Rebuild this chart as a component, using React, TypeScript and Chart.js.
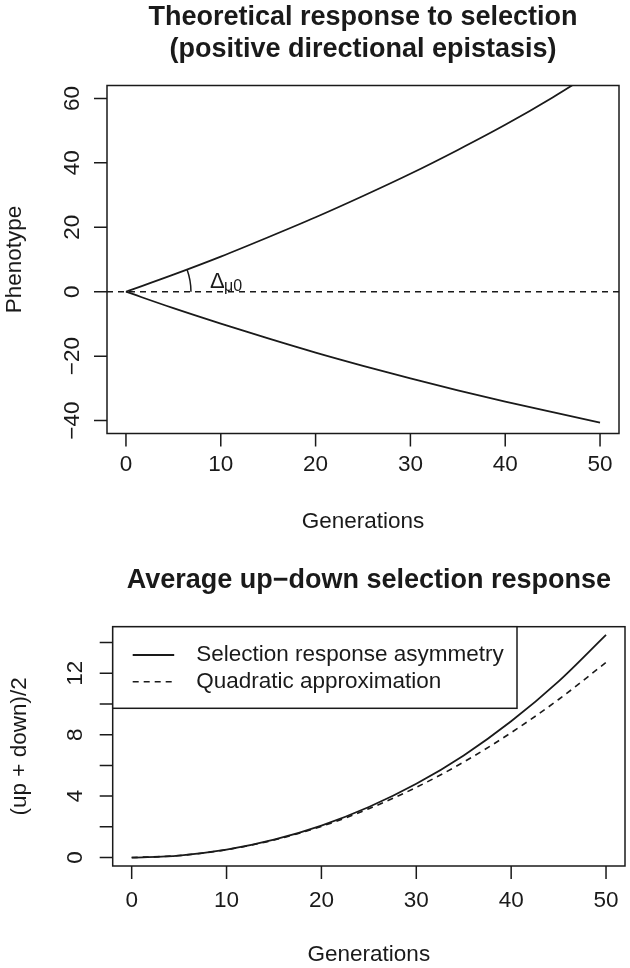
import React, { useEffect, useRef } from "react";
import { Chart, registerables } from "chart.js";

Chart.register(...registerables);

// ---------- data ----------
const generations = [0, 5, 10, 15, 20, 25, 30, 35, 40, 45, 50];
const upResponse = [0, 5.3, 10.9, 16.9, 23.1, 29.7, 36.6, 44.0, 51.8, 60.3, 69.5];
const downResponse = [0, -5.1, -9.9, -14.5, -18.9, -23.0, -26.9, -30.6, -34.1, -37.4, -40.6];
const asymmetry = [0, 0.13, 0.51, 1.16, 2.08, 3.29, 4.8, 6.65, 8.87, 11.47, 14.5];
const quadratic = [0, 0.13, 0.51, 1.14, 2.03, 3.18, 4.57, 6.22, 8.13, 10.29, 12.7];

const xTicks = [0, 10, 20, 30, 40, 50];
const topYTicks = [-40, -20, 0, 20, 40, 60];
const bottomYTicks = [0, 2, 4, 6, 8, 10, 12, 14];
const bottomYLabels = [0, 4, 8, 12];
const baselineValue = 0;

const topTitle = ["Theoretical response to selection", "(positive directional epistasis)"];
const bottomTitle = "Average up\u2212down selection response";
const xTitle = "Generations";
const topYTitle = "Phenotype";
const bottomYTitle = "(up + down)/2";
const legendLabels = ["Selection response asymmetry", "Quadratic approximation"];

// ---------- style ----------
const INK = "#1a1a1a";
const FONT = "'Liberation Sans', Arial, Helvetica, sans-serif";
const W = 630;
const H = 968;
const TICK = 13;
const TXT = 22.5;

const fmt = (v: number) => (v < 0 ? "\u2212" + Math.abs(v) : String(v));

type FrameCfg = {
  xTicks: number[];
  yTicks: number[];
  yLabels: number[];
  yLabelOffset: number;
  xLabelOffset: number;
  xTitleOffset: number;
  yTitleX: number;
  yTitle: string;
  title: string[];
  titleY: number[];
};

function drawFrame(chart: any, cfg: FrameCfg) {
  const { ctx, chartArea: a, scales } = chart;
  const x = scales.x;
  const y = scales.y;
  ctx.save();
  ctx.strokeStyle = INK;
  ctx.lineWidth = 1.5;
  ctx.strokeRect(a.left, a.top, a.right - a.left, a.bottom - a.top);
  ctx.beginPath();
  for (const v of cfg.xTicks) {
    const px = x.getPixelForValue(v);
    ctx.moveTo(px, a.bottom);
    ctx.lineTo(px, a.bottom + TICK);
  }
  for (const v of cfg.yTicks) {
    const py = y.getPixelForValue(v);
    ctx.moveTo(a.left, py);
    ctx.lineTo(a.left - TICK, py);
  }
  ctx.stroke();

  ctx.fillStyle = INK;
  ctx.textAlign = "center";
  ctx.textBaseline = "middle";
  ctx.font = `${TXT}px ${FONT}`;
  for (const v of cfg.xTicks) {
    ctx.fillText(fmt(v), x.getPixelForValue(v), a.bottom + cfg.xLabelOffset);
  }
  for (const v of cfg.yLabels) {
    ctx.save();
    ctx.translate(a.left - cfg.yLabelOffset, y.getPixelForValue(v));
    ctx.rotate(-Math.PI / 2);
    ctx.fillText(fmt(v), 0, 0);
    ctx.restore();
  }
  const cx = (a.left + a.right) / 2;
  ctx.fillText(xTitle, cx, a.bottom + cfg.xTitleOffset);
  ctx.save();
  ctx.translate(cfg.yTitleX, (a.top + a.bottom) / 2);
  ctx.rotate(-Math.PI / 2);
  ctx.fillText(cfg.yTitle, 0, 0);
  ctx.restore();

  ctx.font = `bold 27px ${FONT}`;
  cfg.title.forEach((t, i) => ctx.fillText(t, cx, cfg.titleY[i]));
  ctx.restore();
}

const layer: React.CSSProperties = { position: "absolute", left: 0, top: 0, width: W, height: H };

function TopChart() {
  const ref = useRef<HTMLCanvasElement>(null);
  useEffect(() => {
    const area = { left: 107, right: 619, top: 85.5, bottom: 433.5 };
    const chart = new Chart(ref.current!, {
      type: "line",
      data: {
        datasets: [
          {
            label: "up",
            data: generations.map((g, i) => ({ x: g, y: upResponse[i] })),
            borderColor: INK,
            borderWidth: 1.8,
            pointRadius: 0,
            cubicInterpolationMode: "monotone",
          },
          {
            label: "down",
            data: generations.map((g, i) => ({ x: g, y: downResponse[i] })),
            borderColor: INK,
            borderWidth: 1.8,
            pointRadius: 0,
            cubicInterpolationMode: "monotone",
          },
        ],
      },
      options: {
        animation: false,
        responsive: false,
        devicePixelRatio: 1,
        layout: {
          padding: { left: area.left, right: W - area.right, top: area.top, bottom: H - area.bottom },
        },
        scales: {
          x: { type: "linear", min: -2, max: 52, display: false },
          y: { type: "linear", min: -44, max: 64, display: false },
        },
        plugins: { legend: { display: false }, tooltip: { enabled: false } },
      },
      plugins: [
        {
          id: "rframeTop",
          beforeDatasetsDraw(c: any) {
            const { ctx, chartArea: a, scales } = c;
            const py = scales.y.getPixelForValue(baselineValue);
            ctx.save();
            ctx.strokeStyle = INK;
            ctx.lineWidth = 1.5;
            ctx.setLineDash([6, 5]);
            ctx.beginPath();
            ctx.moveTo(a.left, py);
            ctx.lineTo(a.right, py);
            ctx.stroke();
            ctx.restore();
          },
          afterDraw(c: any) {
            drawFrame(c, {
              xTicks,
              yTicks: topYTicks,
              yLabels: topYTicks,
              yLabelOffset: 34,
              xLabelOffset: 31,
              xTitleOffset: 88,
              yTitleX: 15,
              yTitle: topYTitle,
              title: topTitle,
              titleY: [18, 50],
            });
            const { ctx, scales } = c;
            const ox = scales.x.getPixelForValue(generations[0]);
            const oy = scales.y.getPixelForValue(upResponse[0]);
            const px = scales.x.getPixelForValue(generations[1]);
            const py = scales.y.getPixelForValue(upResponse[1]);
            const ang = Math.atan2(py - oy, px - ox);
            ctx.save();
            ctx.strokeStyle = INK;
            ctx.lineWidth = 1.5;
            ctx.beginPath();
            ctx.arc(ox, oy, 65, ang, 0);
            ctx.stroke();
            ctx.fillStyle = INK;
            ctx.textBaseline = "alphabetic";
            ctx.textAlign = "left";
            ctx.font = `22px ${FONT}`;
            ctx.fillText("\u0394", ox + 84, oy - 4);
            ctx.font = `16px ${FONT}`;
            ctx.fillText("\u03bc0", ox + 98, oy - 1);
            ctx.restore();
          },
        },
      ],
    } as any);
    return () => chart.destroy();
  }, []);
  return <canvas ref={ref} width={W} height={H} style={layer} />;
}

function BottomChart() {
  const ref = useRef<HTMLCanvasElement>(null);
  useEffect(() => {
    const area = { left: 112.7, right: 625, top: 626.7, bottom: 866 };
    const chart = new Chart(ref.current!, {
      type: "line",
      data: {
        datasets: [
          {
            label: legendLabels[0],
            data: generations.map((g, i) => ({ x: g, y: asymmetry[i] })),
            borderColor: INK,
            borderWidth: 1.8,
            pointRadius: 0,
            cubicInterpolationMode: "monotone",
          },
          {
            label: legendLabels[1],
            data: generations.map((g, i) => ({ x: g, y: quadratic[i] })),
            borderColor: INK,
            borderWidth: 1.6,
            borderDash: [6, 5],
            pointRadius: 0,
            cubicInterpolationMode: "monotone",
          },
        ],
      },
      options: {
        animation: false,
        responsive: false,
        devicePixelRatio: 1,
        layout: {
          padding: { left: area.left, right: W - area.right, top: area.top, bottom: H - area.bottom },
        },
        scales: {
          x: { type: "linear", min: -2, max: 52, display: false },
          y: { type: "linear", min: -0.55, max: 15.03, display: false },
        },
        plugins: { legend: { display: false }, tooltip: { enabled: false } },
      },
      plugins: [
        {
          id: "rframeBottom",
          afterDraw(c: any) {
            drawFrame(c, {
              xTicks,
              yTicks: bottomYTicks,
              yLabels: bottomYLabels,
              yLabelOffset: 37,
              xLabelOffset: 35,
              xTitleOffset: 89,
              yTitleX: 20,
              yTitle: bottomYTitle,
              title: [bottomTitle],
              titleY: [581],
            });
            const { ctx, chartArea: a } = c;
            const lx = a.left;
            const lw = 517 - a.left;
            const lh = 81.6;
            ctx.save();
            ctx.fillStyle = "#fff";
            ctx.fillRect(lx, a.top, lw, lh);
            ctx.strokeStyle = INK;
            ctx.lineWidth = 1.5;
            ctx.strokeRect(lx, a.top, lw, lh);
            const rows = [a.top + 28.3, a.top + 55];
            c.data.datasets.forEach((ds: any, i: number) => {
              ctx.beginPath();
              ctx.setLineDash(ds.borderDash || []);
              ctx.lineWidth = ds.borderWidth;
              ctx.moveTo(lx + 20, rows[i]);
              ctx.lineTo(lx + 61.5, rows[i]);
              ctx.stroke();
              ctx.setLineDash([]);
              ctx.fillStyle = INK;
              ctx.font = `${TXT}px ${FONT}`;
              ctx.textAlign = "left";
              ctx.textBaseline = "middle";
              ctx.fillText(ds.label, lx + 83.5, rows[i]);
            });
            ctx.restore();
          },
        },
      ],
    } as any);
    return () => chart.destroy();
  }, []);
  return <canvas ref={ref} width={W} height={H} style={layer} />;
}

export default function App() {
  return (
    <div style={{ position: "fixed", left: 0, top: 0, width: W, height: H, background: "#fff" }}>
      <TopChart />
      <BottomChart />
    </div>
  );
}
